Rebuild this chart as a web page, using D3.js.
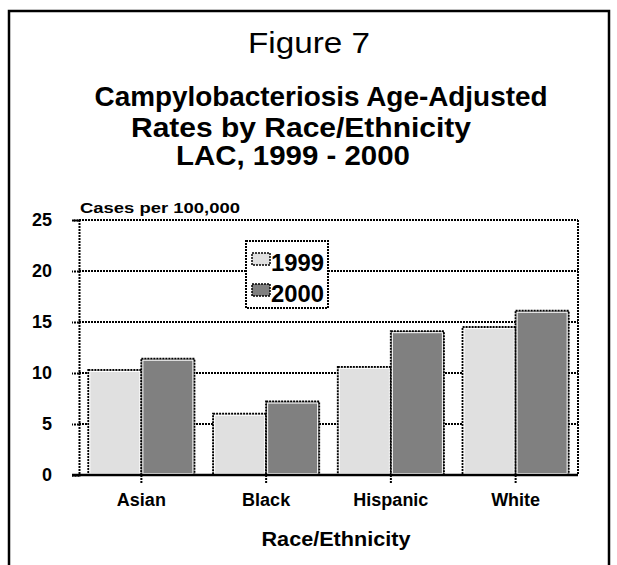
<!DOCTYPE html>
<html>
<head>
<meta charset="utf-8">
<script src="https://cdn.jsdelivr.net/npm/d3@7"></script>
<style>
  html, body { margin: 0; padding: 0; background: #fff; }
  svg { display: block; }
  text { font-family: "Liberation Sans", Arial, sans-serif; fill: #000; }
</style>
</head>
<body>
<svg id="chart" width="617" height="565"></svg>
<script>
const categories = ["Asian", "Black", "Hispanic", "White"];
const seriesNames = ["1999", "2000"];
const values1999 = [10.3, 6.0, 10.6, 14.5];
const values2000 = [11.4, 7.2, 14.1, 16.1];
const yTicks = [0, 5, 10, 15, 20, 25];
const colors = ["#e0e0e0", "#808080"];

const svg = d3.select("#chart");
const W = 617, H = 565;
const m = { left: 79, right: 578, top: 220, bottom: 475 };
const dots = "2,1";

// outer frame
svg.append("path")
  .attr("d", `M9,${H + 5} L9,11 L609,11 L609,${H + 5}`)
  .attr("fill", "none").attr("stroke", "#000").attr("stroke-width", 2.5);

// titles
svg.append("text").attr("x", 309).attr("y", 53).attr("text-anchor", "middle")
  .attr("textLength", 122).attr("lengthAdjust", "spacingAndGlyphs")
  .style("font-size", "30px").text("Figure 7");
const titleLines = ["Campylobacteriosis Age-Adjusted", "Rates by Race/Ethnicity", "LAC, 1999 - 2000"];
const titleX = [321, 301, 293];
const titleY = [106, 137, 165];
const titleW = [453, 340, 234];
titleLines.forEach((t, i) => {
  svg.append("text").attr("x", titleX[i]).attr("y", titleY[i]).attr("text-anchor", "middle")
    .attr("textLength", titleW[i]).attr("lengthAdjust", "spacingAndGlyphs")
    .style("font-size", "28px").style("font-weight", "bold").text(t);
});

const x = d3.scaleBand().domain(categories).range([m.left, m.right]).paddingInner(0.15).paddingOuter(0.075);
const xs = d3.scaleBand().domain(seriesNames).range([0, x.bandwidth()]);
const y = d3.scaleLinear().domain([0, 25]).range([m.bottom, m.top]);

// gridlines
const g = svg.append("g");
g.selectAll("line.grid").data(yTicks.filter(d => d > 0)).join("line")
  .attr("x1", m.left).attr("x2", m.right)
  .attr("y1", d => y(d)).attr("y2", d => y(d))
  .attr("stroke", "#000").attr("stroke-width", 2).attr("stroke-dasharray", dots);
// right border
g.append("line").attr("x1", m.right).attr("x2", m.right).attr("y1", m.top).attr("y2", m.bottom)
  .attr("stroke", "#000").attr("stroke-width", 2).attr("stroke-dasharray", dots);

// bars
const data = [];
categories.forEach((c, i) => {
  data.push({ cat: c, s: "1999", v: values1999[i] });
  data.push({ cat: c, s: "2000", v: values2000[i] });
});
const bars = svg.append("g").selectAll("g").data(data).join("g");
bars.append("rect")
  .attr("x", d => x(d.cat) + xs(d.s))
  .attr("y", d => y(d.v))
  .attr("width", xs.bandwidth())
  .attr("height", d => y(0) - y(d.v))
  .attr("fill", d => colors[seriesNames.indexOf(d.s)])
  .attr("stroke", "#000").attr("stroke-width", 2).attr("stroke-dasharray", dots);
bars.append("rect")
  .attr("x", d => x(d.cat) + xs(d.s) + 1.5)
  .attr("y", d => y(d.v) + 1.5)
  .attr("width", xs.bandwidth() - 3)
  .attr("height", d => y(0) - y(d.v) - 3)
  .attr("fill", "none").attr("stroke", "#fff").attr("stroke-width", 1);

// y axis
const yAxis = svg.append("g").attr("transform", `translate(${m.left},0)`)
  .call(d3.axisLeft(y).tickValues(yTicks).tickSize(7).tickPadding(20));
yAxis.select(".domain").attr("stroke", "#000").attr("stroke-width", 2).attr("stroke-dasharray", dots);
yAxis.selectAll(".tick line").attr("stroke", "#000").attr("stroke-width", 2).attr("stroke-dasharray", dots);
yAxis.selectAll(".tick text").style("font-size", "18px").style("font-weight", "bold")
  .style("font-family", "'Liberation Sans', Arial, sans-serif");

// x axis
const xAxis = svg.append("g").attr("transform", `translate(0,${m.bottom})`)
  .call(d3.axisBottom(x).tickSize(8).tickPadding(10).tickSizeOuter(0));
xAxis.select(".domain").attr("stroke", "#000").attr("stroke-width", 2.5)
  .attr("d", `M${m.left - 7},0H${m.right}`);
xAxis.selectAll(".tick line").attr("stroke", "#000").attr("stroke-width", 2).attr("stroke-dasharray", dots);
xAxis.selectAll(".tick text").style("font-size", "18px").style("font-weight", "bold")
  .style("font-family", "'Liberation Sans', Arial, sans-serif");

// axis titles
svg.append("text").attr("x", 80).attr("y", 213)
  .attr("textLength", 160).attr("lengthAdjust", "spacingAndGlyphs")
  .style("font-size", "15px").style("font-weight", "bold")
  .text("Cases per 100,000");
svg.append("text").attr("x", 336).attr("y", 546).attr("text-anchor", "middle")
  .attr("textLength", 149).attr("lengthAdjust", "spacingAndGlyphs")
  .style("font-size", "21px").style("font-weight", "bold").text("Race/Ethnicity");

// legend
const lg = svg.append("g");
lg.append("rect").attr("x", 246).attr("y", 241).attr("width", 82).attr("height", 67)
  .attr("fill", "#fff").attr("stroke", "#000").attr("stroke-width", 2).attr("stroke-dasharray", dots);
seriesNames.forEach((s, i) => {
  const yy = 253 + i * 31;
  lg.append("rect").attr("x", 252).attr("y", yy).attr("width", 18).attr("height", 12)
    .attr("fill", colors[i]).attr("stroke", "#000").attr("stroke-width", 1.5).attr("stroke-dasharray", dots);
  lg.append("text").attr("x", 271).attr("y", yy + 18)
    .attr("textLength", 53).attr("lengthAdjust", "spacingAndGlyphs")
    .style("font-size", "23px").style("font-weight", "bold").text(s);
});
</script>
</body>
</html>
